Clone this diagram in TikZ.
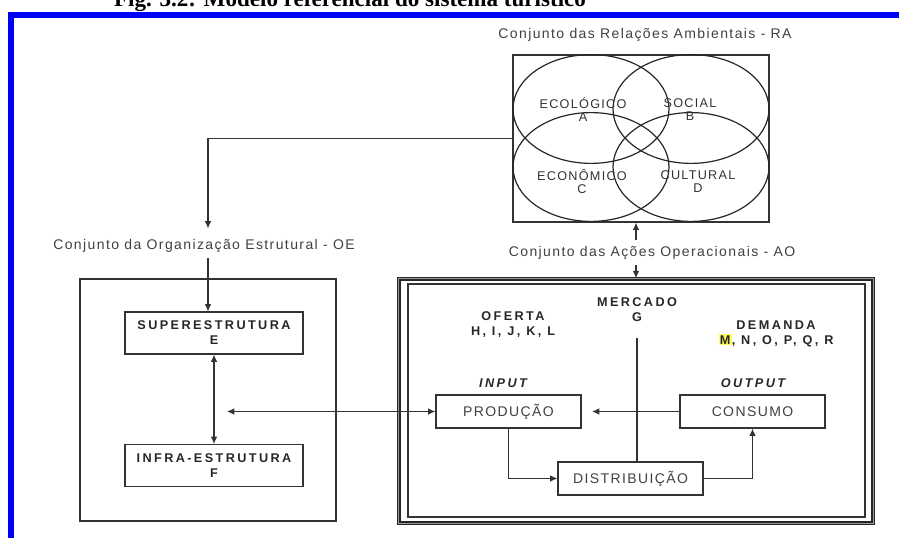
\documentclass[tikz,border=0pt]{standalone}
\usepackage{fontspec}
\setmainfont{Liberation Sans}[LetterSpace=10]
\newfontfamily\capsbf{Liberation Sans}[LetterSpace=19]
\newfontfamily\titlefont{Liberation Serif}
\usetikzlibrary{arrows.meta}
\definecolor{frameblue}{RGB}{0,0,245}
\definecolor{markyellow}{RGB}{255,255,90}
\newcommand{\hlm}[1]{{\setlength{\fboxsep}{1pt}\colorbox{markyellow}{#1}}}
\begin{document}
\begin{tikzpicture}[x=0.75pt,y=-0.75pt,>={Latex[length=5.5pt,width=5pt]},
    line/.style={draw=black!80,line width=0.85pt},
    lbl/.style={text=black!75,font=\fontsize{10.5}{12}\selectfont,inner sep=0pt},
    venn/.style={text=black!80,font=\fontsize{9.5}{10}\selectfont,align=center,inner sep=0pt},
    bold/.style={text=black!85,font=\capsbf\bfseries\fontsize{9.5}{11.25}\selectfont,align=center,inner sep=0pt},
    io/.style={bold,font=\capsbf\bfseries\itshape\fontsize{9.5}{11.25}\selectfont},
    frame/.style={draw=black!80,line width=0.85pt,inner sep=0pt},
    box/.style={frame,minimum width=108.75pt,minimum height=24.75pt,text=black!75,font=\fontsize{10.5}{12}\selectfont}]
    \useasboundingbox (0,0) rectangle (899,538);
    % title and blue frame
    \node[font=\titlefont\bfseries\fontsize{17.3}{19}\selectfont,anchor=base,inner sep=0pt] (title) at (350,6.8) {Fig. 3.2: Modelo referencial do sistema turístico};
    \fill[frameblue] (8,12) rectangle (899,18);
    \fill[frameblue] (8,12) rectangle (14,538);
    % relacoes ambientais
    \node[lbl] (ralabel) at (645,35) {Conjunto das Relações Ambientais - RA};
    \node[frame,minimum width=192pt,minimum height=125.25pt] (ra) at (641,138.5) {};
    \foreach \cx/\cy in {591/109,691/109,591/167,691/167}
        \draw[black!85,line width=0.9pt] (\cx,\cy) ellipse [x radius=58.5pt,y radius=40.8pt];
    \node[venn] (ecol) at (583,109.5) {ECOLÓGICO\\A};
    \node[venn] (soc) at (690,109.5) {SOCIAL\\B};
    \node[venn] (econ) at (582,181.5) {ECONÔMICO\\C};
    \node[venn] (cult) at (698,181.5) {CULTURAL\\D};
    % organizacao estrutural
    \node[lbl] (oelabel) at (204,246) {Conjunto da Organização Estrutural - OE};
    \node[frame,minimum width=192pt,minimum height=181.5pt] (oe) at (208,400) {};
    \node[bold,frame,minimum width=133.5pt,minimum height=31.5pt] (super) at (214,333) {SUPERESTRUTURA\\E};
    \node[bold,frame,minimum width=133.5pt,minimum height=31.5pt] (infra) at (214,465.5) {INFRA-ESTRUTURA\\F};
    % acoes operacionais
    \node[lbl] (aolabel) at (652,253) {Conjunto das Ações Operacionais - AO};
    \node[draw=black!85,line width=0.9pt,double=black!40,double distance=0.9pt,minimum width=355.8pt,minimum height=183.3pt] (ao) at (636,401) {};
    \node[frame,minimum width=342.75pt,minimum height=174.75pt] (aoin) at (636.5,400.5) {};
    \node[bold] (mercado) at (637,309.5) {MERCADO\\G};
    \node[bold] (oferta) at (513,324.5) {OFERTA\\H, I, J, K, L};
    \node[bold] (demanda) at (776,333.5) {DEMANDA\\\hlm{M}, N, O, P, Q, R};
    \node[io] (input) at (503,383) {INPUT};
    \node[io] (output) at (753,383) {OUTPUT};
    \node[box] (prod) at (508.5,411.5) {PRODUÇÃO};
    \node[box] (cons) at (752.5,411.5) {CONSUMO};
    \node[box] (dist) at (630.5,478.5) {DISTRIBUIÇÃO};
    \coordinate (oein) at (227,411.5);
    \coordinate (prodgap) at (592,411.5);
    % connectors
    \draw[line,->,shorten >=8pt] (ra.west) -| (oelabel.north -| oe.north);
    \draw[line,->,shorten <=4pt] (oelabel.south -| oe.north) -- (super.north -| oe.north);
    \draw[line,<->] (super) -- (infra);
    \draw[line,<->] (oein) -- (prod.west);
    \draw[line,->] (cons.west) -- (prodgap);
    \draw[line,->] (prod.south) |- (dist.west);
    \draw[line,->] (dist.east) -| (cons.south);
    \draw[line] ([yshift=-12pt]mercado.south) -- (mercado.south |- dist.north);
    \draw[line,->,shorten <=5pt] (aolabel.north -| ao.north) -- (ra.south -| ao.north);
    \draw[line,->,shorten <=4pt] (aolabel.south -| ao.north) -- (ao.north);
\end{tikzpicture}
\end{document}
